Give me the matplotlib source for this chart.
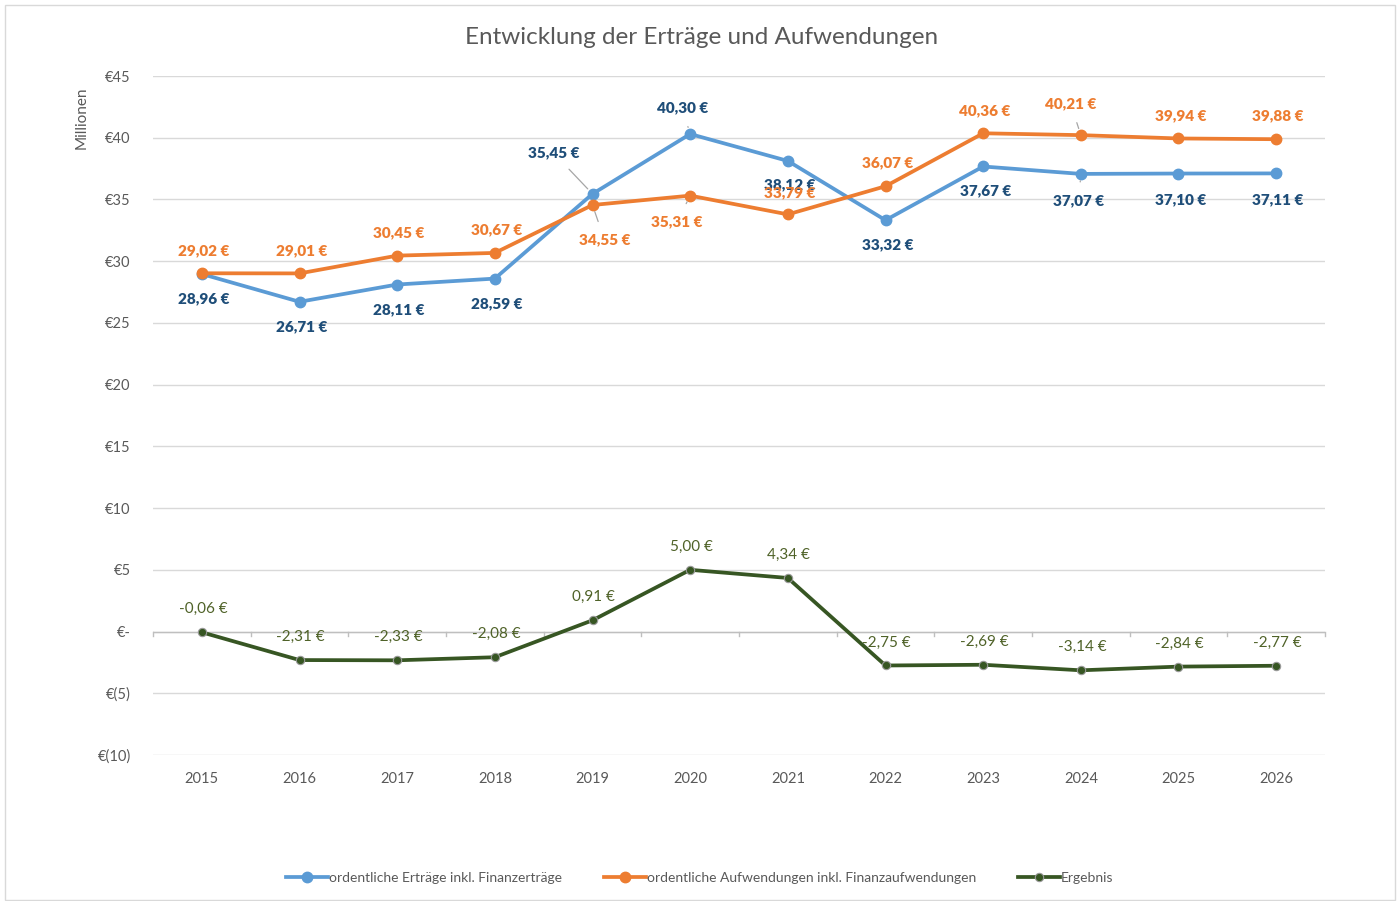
import matplotlib.pyplot as plt
from matplotlib.patches import Rectangle

plt.rcParams['font.family'] = ['Lato', 'DejaVu Sans']

jahre = ['2015', '2016', '2017', '2018', '2019', '2020', '2021', '2022', '2023', '2024', '2025', '2026']
ertraege = [28.96, 26.71, 28.11, 28.59, 35.45, 40.30, 38.12, 33.32, 37.67, 37.07, 37.10, 37.11]
aufwendungen = [29.02, 29.01, 30.45, 30.67, 34.55, 35.31, 33.79, 36.07, 40.36, 40.21, 39.94, 39.88]
ergebnis = [-0.06, -2.31, -2.33, -2.08, 0.91, 5.00, 4.34, -2.75, -2.69, -3.14, -2.84, -2.77]

# label offsets in pixels (dx, dy) and whether a leader line is drawn
off_ertr = [(2, -25), (2, -25), (2, -25), (2, -25), (-39, 41), (-8, 26), (2, -24),
            (2, -25), (2, -24), (-2, -27), (2, -26), (2, -26)]
lead_ertr = [False, False, False, False, True, True, False, False, False, True, False, False]
off_aufw = [(2, 23), (2, 23), (2, 23), (2, 23), (12, -35), (-13, -26), (2, 22),
            (2, 23), (2, 23), (-10, 31), (2, 23), (2, 23)]
lead_aufw = [False, False, False, False, True, True, False, False, False, True, False, False]

def fmt(v):
    return ('%.2f €' % v).replace('.', ',')

blau = '#5B9BD5'
blau_txt = '#1F4E79'
orange = '#ED7D31'
gruen = '#375623'
gruen_txt = '#4F6228'
grau = '#595959'

fig = plt.figure(figsize=(14, 9.01), dpi=100)
ax = fig.add_axes([153 / 1400, 1 - 755 / 901, (1325 - 153) / 1400, (755 - 76) / 901])

x = list(range(len(jahre)))
ax.plot(x, ertraege, color=blau, lw=2.7, marker='o', ms=7.5, label='ordentliche Erträge inkl. Finanzerträge', zorder=4)
ax.plot(x, aufwendungen, color=orange, lw=2.7, marker='o', ms=7.5,
        label='ordentliche Aufwendungen inkl. Finanzaufwendungen', zorder=4)
ax.plot(x, ergebnis, color=gruen, lw=2.7, marker='o', ms=6, mec='#9a9a9a', mew=0.8,
        label='Ergebnis', zorder=4)

lp = dict(arrowstyle='-', color='#A6A6A6', lw=0.9, shrinkA=7, shrinkB=5)
for i in x:
    ax.annotate(fmt(ertraege[i]), (i, ertraege[i]), xytext=off_ertr[i], textcoords='offset pixels',
                ha='center', va='center', fontsize=11, fontweight='heavy', color=blau_txt, zorder=5,
                arrowprops=lp if lead_ertr[i] else None)
    ax.annotate(fmt(aufwendungen[i]), (i, aufwendungen[i]), xytext=off_aufw[i], textcoords='offset pixels',
                ha='center', va='center', fontsize=11, fontweight='heavy', color=orange, zorder=5,
                arrowprops=lp if lead_aufw[i] else None)
    ax.annotate(fmt(ergebnis[i]), (i, ergebnis[i]), xytext=(1, 23), textcoords='offset pixels',
                ha='center', va='center', fontsize=11, color=gruen_txt, zorder=3)

ax.set_xlim(-0.5, len(jahre) - 0.5)
ax.set_ylim(-10, 45)
yt = list(range(-10, 50, 5))
ax.set_yticks(yt)
ylab = []
for v in yt:
    if v == 0:
        ylab.append('€-')
    elif v < 0:
        ylab.append('€(%d)' % -v)
    else:
        ylab.append('€%d' % v)
ax.set_yticklabels(ylab)
ax.set_xticks(x)
ax.set_xticklabels(jahre)
ax.tick_params(axis='both', length=0, labelsize=10.5, labelcolor=grau)
ax.tick_params(axis='x', pad=12)
ax.tick_params(axis='y', pad=16)
ax.yaxis.grid(True, color='#D9D9D9', lw=1)
ax.set_axisbelow(True)
for s in ax.spines.values():
    s.set_visible(False)

# category axis at zero with tick marks between years
ax.axhline(0, color='#BFBFBF', lw=1, zorder=1)
for b in range(len(jahre) + 1):
    ax.plot([b - 0.5, b - 0.5], [0, -0.35], color='#BFBFBF', lw=1, zorder=1, clip_on=False)

fig.text(465 / 1400 + (938 - 465) / 2800, 1 - 38 / 901, 'Entwicklung der Erträge und Aufwendungen',
         ha='center', va='center', fontsize=17.5, color=grau)
fig.text(82 / 1400, 1 - 118 / 901, 'Millionen', rotation=90, ha='center', va='center',
         fontsize=11, color=grau)

fig.legend(loc='center', bbox_to_anchor=(0.5, 1 - 878 / 901), ncol=3, frameon=False,
           fontsize=10, handlelength=3, handletextpad=0.1, columnspacing=3.0, labelcolor=grau)

fig.patches.append(Rectangle((5 / 1400, 1 / 901), 1390 / 1400, 895 / 901, transform=fig.transFigure,
                             fill=False, edgecolor='#D9D9D9', lw=1))

fig.savefig('out.png', dpi=100)
